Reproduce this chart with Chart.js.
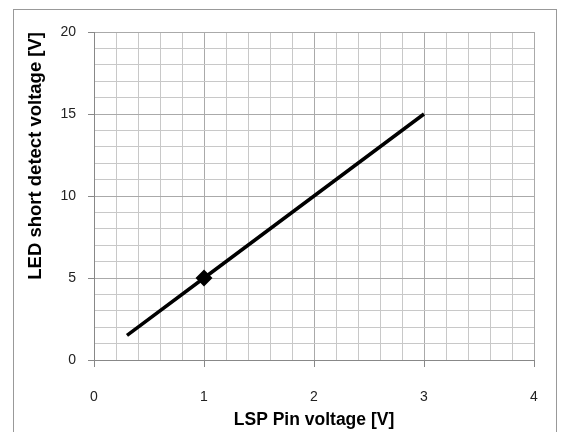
<!DOCTYPE html>
<html>
<head>
<meta charset="utf-8">
<script src="https://cdn.jsdelivr.net/npm/chart.js@4/dist/chart.umd.min.js"></script>
<style>
  html, body { margin: 0; padding: 0; background: #fff; }
  #wrap { width: 564px; height: 432px; position: relative; }
</style>
</head>
<body>
<div id="wrap"><canvas id="lspChart" width="564" height="432"></canvas></div>
<script>
// Data
const pinVoltage = [0.3, 1, 3];       // LSP pin voltage [V]
const detectVoltage = [1.5, 5, 15];   // LED short detect voltage [V]
const markerRadius = [0, 6, 0];       // only the middle point has a marker

const isMajor = (v, step) => Math.abs(v / step - Math.round(v / step)) < 1e-6;

// grey frame round the whole chart
const framePlugin = {
    id: 'frame',
    beforeDraw(chart) {
        const c = chart.ctx;
        c.save();
        c.fillStyle = '#fff';
        c.fillRect(0, 0, chart.width, chart.height);
        c.strokeStyle = '#999';
        c.lineWidth = 1;
        c.strokeRect(13.5, 9.5, 543, 440);
        c.restore();
    }
};

const points = pinVoltage.map((x, i) => ({ x: x, y: detectVoltage[i] }));

const ctx = document.getElementById('lspChart').getContext('2d');
const lineChart = new Chart(ctx, {
    type: 'scatter',
    data: {
        datasets: [{
            data: points,
            showLine: true,
            borderColor: '#000',
            backgroundColor: '#000',
            borderWidth: 3.5,
            pointStyle: 'rectRot',
            pointRadius: markerRadius,
            pointHoverRadius: markerRadius
        }]
    },
    options: {
        responsive: false,
        animation: false,
        layout: { padding: { left: 0, right: 30, top: 32, bottom: 0 } },
        plugins: { legend: { display: false }, tooltip: { enabled: false } },
        scales: {
            x: {
                type: 'linear',
                min: 0,
                max: 4,
                afterFit: s => { s.height = 72; },
                border: { color: '#888', width: 1 },
                grid: {
                    color: c => isMajor(c.tick.value, 1) ? '#aaa' : '#c8c8c8',
                    tickColor: c => isMajor(c.tick.value, 1) ? '#888' : 'transparent',
                    tickLength: 7
                },
                ticks: {
                    stepSize: 0.2,
                    autoSkip: false,
                    maxRotation: 0,
                    padding: 22,
                    color: '#222',
                    font: { family: 'Liberation Sans, Arial', size: 14 },
                    callback: v => isMajor(v, 1) ? Math.round(v) : ''
                },
                title: {
                    display: true,
                    text: 'LSP Pin voltage [V]',
                    color: '#000',
                    font: { family: 'Liberation Sans, Arial', size: 17.5, weight: 'bold' },
                    padding: { top: 0, bottom: 1 }
                }
            },
            y: {
                type: 'linear',
                min: 0,
                max: 20,
                afterFit: s => { s.width = 94; },
                border: { color: '#888', width: 1 },
                grid: {
                    color: c => isMajor(c.tick.value, 5) ? '#aaa' : '#c8c8c8',
                    tickColor: c => isMajor(c.tick.value, 5) ? '#888' : 'transparent',
                    tickLength: 6
                },
                ticks: {
                    stepSize: 1,
                    autoSkip: false,
                    padding: 12,
                    color: '#222',
                    font: { family: 'Liberation Sans, Arial', size: 14 },
                    callback: v => isMajor(v, 5) ? Math.round(v) : ''
                },
                title: {
                    display: true,
                    text: 'LED short detect voltage [V]',
                    align: 'end',
                    color: '#000',
                    font: { family: 'Liberation Sans, Arial', size: 18.5, weight: 'bold' },
                    padding: { top: 25, bottom: 0 }
                }
            }
        }
    },
    plugins: [framePlugin]
});
</script>
</body>
</html>
